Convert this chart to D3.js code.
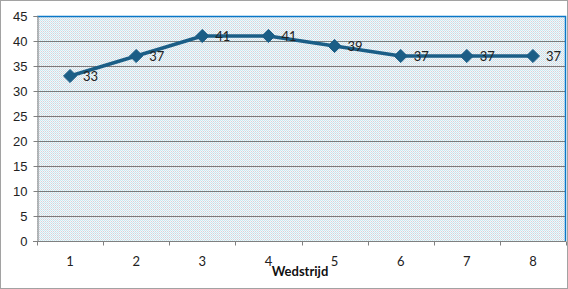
<!DOCTYPE html>
<html>
<head>
<meta charset="utf-8">
<script src="https://cdn.jsdelivr.net/npm/d3@7"></script>
<style>
  body { margin: 0; background: #fff; }
  svg { display: block; font-family: Lato, "Open Sans", sans-serif; }
</style>
</head>
<body>
<div id="chart"></div>
<script>
// data
var matches = ["1", "2", "3", "4", "5", "6", "7", "8"];
var scores = [33, 37, 41, 41, 39, 37, 37, 37];
var yTicks = [0, 5, 10, 15, 20, 25, 30, 35, 40, 45];
var xTitle = "Wedstrijd";

var width = 568, height = 289;
var margin = {top: 16, right: 2, bottom: 48, left: 37};

var svg = d3.select("#chart").append("svg")
  .attr("width", width)
  .attr("height", height);

// fine dotted fill like the original
var defs = svg.append("defs");
var pat = defs.append("pattern")
  .attr("id", "dots")
  .attr("width", 2).attr("height", 2)
  .attr("patternUnits", "userSpaceOnUse");
pat.append("rect").attr("width", 2).attr("height", 2).attr("fill", "#f4f6f8");
pat.append("rect").attr("width", 1).attr("height", 1).attr("fill", "#c8eaf2");
pat.append("rect").attr("x", 1).attr("y", 1).attr("width", 1).attr("height", 1).attr("fill", "#d4d4dc");

// outer dotted border
svg.append("rect")
  .attr("x", 0.5).attr("y", 0.5)
  .attr("width", width - 1).attr("height", height - 1)
  .attr("fill", "none")
  .attr("stroke", "#444")
  .attr("stroke-dasharray", "1,1");

var x = d3.scaleBand()
  .domain(matches)
  .range([margin.left, width - margin.right]);

var y = d3.scaleLinear()
  .domain([0, 45])
  .range([height - margin.bottom, margin.top]);

// plot background
svg.append("rect")
  .attr("x", margin.left).attr("y", margin.top)
  .attr("width", width - margin.right - margin.left)
  .attr("height", height - margin.bottom - margin.top)
  .attr("fill", "url(#dots)");

// gridlines
svg.append("g")
  .selectAll("line")
  .data(yTicks.filter(function(d) { return d > 0 && d < 45; }))
  .enter().append("line")
    .attr("x1", margin.left).attr("x2", width - margin.right)
    .attr("y1", function(d) { return Math.round(y(d)) + 0.5; })
    .attr("y2", function(d) { return Math.round(y(d)) + 0.5; })
    .attr("stroke", "#7a7a7a");

// top and right edge
svg.append("path")
  .attr("d", "M" + margin.left + "," + (margin.top + 0.5) +
    "H" + (width - margin.right - 0.5) + "V" + (height - margin.bottom))
  .attr("fill", "none")
  .attr("stroke", "#0a78c8")
  .attr("stroke-width", 1.5);

// y axis
var yAxis = svg.append("g")
  .attr("transform", "translate(" + (margin.left + 0.5) + ",0)")
  .call(d3.axisLeft(y).tickValues(yTicks).tickSize(4).tickPadding(6));
yAxis.select(".domain").attr("stroke", "#808080");
yAxis.selectAll(".tick line").attr("stroke", "#808080");
yAxis.selectAll("text").attr("font-size", 13).attr("fill", "#222");

// x axis with ticks between categories
var xAxisG = svg.append("g")
  .attr("transform", "translate(0," + (Math.round(y(0)) + 0.5) + ")");
xAxisG.append("line")
  .attr("x1", margin.left - 4).attr("x2", width - margin.right)
  .attr("stroke", "#808080");
xAxisG.selectAll(".tk")
  .data(matches.concat(["end"]))
  .enter().append("line")
    .attr("x1", function(d, i) { return Math.round(margin.left + i * x.bandwidth()) + 0.5; })
    .attr("x2", function(d, i) { return Math.round(margin.left + i * x.bandwidth()) + 0.5; })
    .attr("y1", 0).attr("y2", 4)
    .attr("stroke", "#808080");
xAxisG.selectAll("text")
  .data(matches)
  .enter().append("text")
    .attr("x", function(d) { return x(d) + x.bandwidth() / 2; })
    .attr("y", 24)
    .attr("text-anchor", "middle")
    .attr("font-size", 13)
    .attr("fill", "#222")
    .text(function(d) { return d; });

svg.append("text")
  .attr("x", 300).attr("y", 276)
  .attr("text-anchor", "middle")
  .attr("font-size", 13)
  .attr("font-weight", "bold")
  .attr("fill", "#111")
  .text(xTitle);

// line
var pts = matches.map(function(m, i) { return {m: m, v: scores[i]}; });
var line = d3.line()
  .x(function(d) { return x(d.m) + x.bandwidth() / 2; })
  .y(function(d) { return y(d.v); });

svg.append("path")
  .datum(pts)
  .attr("d", line)
  .attr("fill", "none")
  .attr("stroke", "#1b5e86")
  .attr("stroke-width", 3.5)
  .attr("stroke-linejoin", "round");

svg.selectAll(".marker")
  .data(pts)
  .enter().append("path")
    .attr("class", "marker")
    .attr("transform", function(d) {
      return "translate(" + (x(d.m) + x.bandwidth() / 2) + "," + y(d.v) + ")";
    })
    .attr("d", d3.symbol().type(d3.symbolDiamond2).size(110))
    .attr("fill", "#1b5e86")
    .attr("stroke", "#1b5e86")
    .attr("stroke-width", 1);

// value labels
svg.selectAll(".lbl")
  .data(pts)
  .enter().append("text")
    .attr("class", "lbl")
    .attr("x", function(d) { return x(d.m) + x.bandwidth() / 2 + 13; })
    .attr("y", function(d) { return y(d.v) + 5; })
    .attr("font-size", 13)
    .attr("fill", "#222")
    .text(function(d) { return d.v; });
</script>
</body>
</html>
